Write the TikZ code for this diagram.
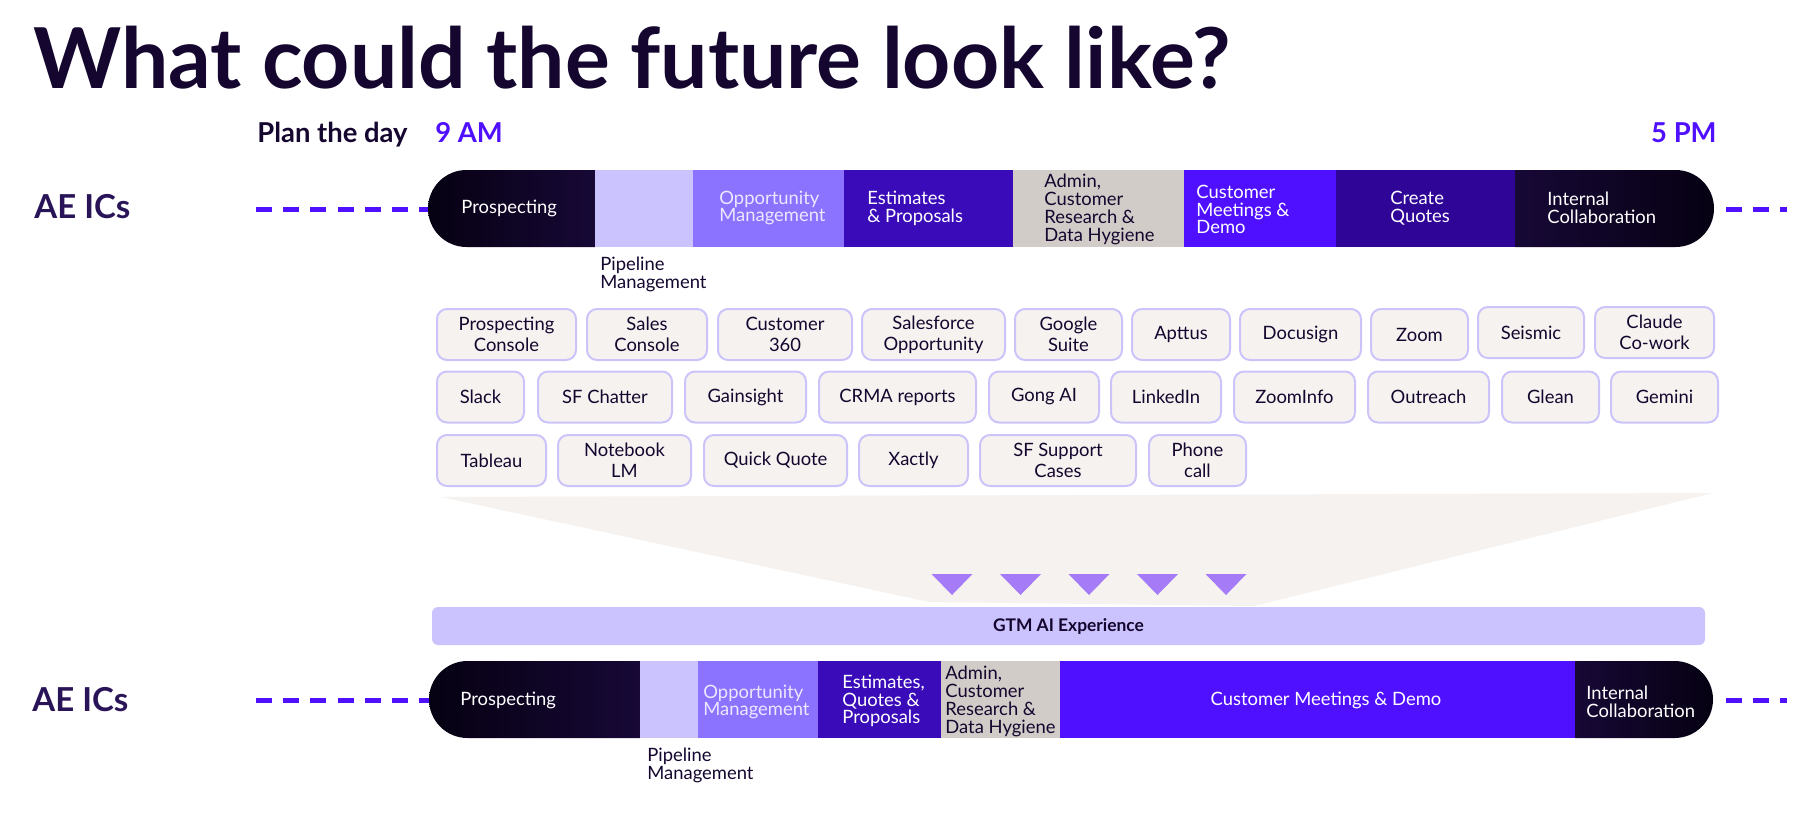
\documentclass[tikz,border=0pt]{standalone}
\usepackage{fontspec}
\setmainfont{Lato}
\usepackage{tikz}
\usetikzlibrary{positioning,calc}
\definecolor{inkcol}{HTML}{14062E}
\definecolor{aecol}{HTML}{2A1458}
\definecolor{violetcol}{HTML}{4F10FF}
\definecolor{lilaccol}{HTML}{CBC3FD}
\definecolor{oppcol}{HTML}{8B72FF}
\definecolor{estcol}{HTML}{3A0BB8}
\definecolor{admincol}{HTML}{D2CCC8}
\definecolor{quotecol}{HTML}{2F0598}
\definecolor{darkA}{HTML}{060112}
\definecolor{darkB}{HTML}{170836}
\definecolor{toolfill}{HTML}{F6F2EF}
\definecolor{toolline}{HTML}{CCC3FB}
\definecolor{tricol}{HTML}{A57BF8}
\definecolor{opptext}{HTML}{ECE8FF}
\tikzset{
  seg dark/.style={left color=darkA,right color=darkB},
  seg darkr/.style={left color=darkB,right color=darkA},
  seg lilac/.style={fill=lilaccol},
  seg opp/.style={fill=oppcol},
  seg est/.style={fill=estcol},
  seg admin/.style={fill=admincol},
  seg meet/.style={fill=violetcol},
  seg quote/.style={fill=quotecol},
  bartext/.style={anchor=west,inner sep=0pt,align=left,text=white,font=\fontsize{9.2}{8.9}\selectfont},
  undertext/.style={bartext,text=inkcol,font=\fontsize{9.2}{9}\selectfont},
  rowlabel/.style={anchor=west,inner sep=0pt,text=aecol,font=\fontsize{16.5}{18}\selectfont\bfseries},
  timetext/.style={inner sep=0pt,text=violetcol,font=\fontsize{13.7}{15}\selectfont\bfseries},
  tool/.style={draw=toolline,fill=toolfill,line width=1pt,rounded corners=5pt,inner sep=0pt,
    minimum height=25.5pt,align=center,text=inkcol,font=\fontsize{9.2}{10.5}\selectfont},
  dashline/.style={draw=violetcol,line width=2.5pt,dash pattern=on 8pt off 5.6pt},
  gtmbar/.style={fill=lilaccol,rounded corners=3pt,inner sep=0pt,minimum width=636.5pt,
    minimum height=19pt,text=inkcol,font=\fontsize{8.7}{10}\selectfont\bfseries}
}
\begin{document}
\begin{tikzpicture}[x=0.5pt,y=-0.5pt]
  \useasboundingbox (0,0) rectangle (1818,819);

  \node[anchor=base west,inner sep=0pt,text=inkcol,font=\fontsize{42}{44}\selectfont\bfseries]
    (title) at (33,88) {What could the future look like?};
  \node[anchor=base west,inner sep=0pt,text=inkcol,font=\fontsize{13.7}{15}\selectfont\bfseries]
    (plan) at (257,142) {Plan the day};
  \node[timetext,anchor=base west] (nine) at (435,142) {9 AM};
  \node[timetext,anchor=base east] (five) at (1717,142) {5 PM};

  % dashed guide lines
  \coordinate (tl) at (256,209);  \coordinate (tlb) at (436,209);
  \coordinate (tr) at (1726,209); \coordinate (tre) at (1787,209);
  \coordinate (bl) at (256,700);  \coordinate (blb) at (436,700);
  \coordinate (br) at (1726,700); \coordinate (bre) at (1787,700);
  \draw[dashline] (tl) -- (tlb);
  \draw[dashline] (tr) -- (tre);
  \draw[dashline] (bl) -- (blb);
  \draw[dashline] (br) -- (bre);

  \node[rowlabel] (ae1) at (34,207) {AE ICs};
  \node[rowlabel] (ae2) at (32,700) {AE ICs};

  % today's day
  \begin{scope}
    \clip[rounded corners=19.25pt] (428,170) rectangle (1714,247);
    \foreach \xa/\xb/\c in {428/595/seg dark,595/693/seg lilac,693/844/seg opp,844/1013/seg est,
      1013/1184/seg admin,1184/1336/seg meet,1336/1515/seg quote,1515/1714/seg darkr}
      {\path[\c] (\xa,170) rectangle (\xb,247);}
  \end{scope}
  \node[bartext] (t1) at (461,208) {Prospecting};
  \node[undertext] (t2) at (600,274) {Pipeline\\Management};
  \node[bartext,text=opptext] (t3) at (719,208) {Opportunity\\Management};
  \node[bartext] (t4) at (867,208) {Estimates\\\& Proposals};
  \node[bartext,text=inkcol] (t5) at (1044,209.5) {Admin,\\Customer\\Research \&\\Data Hygiene};
  \node[bartext] (t6) at (1196,209.5) {Customer\\Meetings \&\\Demo};
  \node[bartext] (t7) at (1390,208) {Create\\Quotes};
  \node[bartext] (t8) at (1547,208) {Internal\\Collaboration};

  % tools
  \fill[toolfill] (441,497) -- (1713,493) -- (1254,606) -- (929,602) -- cycle;
  \foreach \n/\xa/\xb/\y/\t in {
      pc/437/576/334.5/{Prospecting\\Console}, sc/587/707/334.5/{Sales\\Console},
      cthree/718/852/334.5/{Customer\\360}, sfo/862/1005/334.5/{Salesforce\\Opportunity},
      gs/1015/1122/334.5/{Google\\Suite}, apt/1132/1230/334.5/{Apttus},
      doc/1240/1361/334.5/{Docusign}, zm/1371/1468/334.5/{Zoom},
      seis/1478/1584/332.5/{Seismic}, cl/1595/1714/332.5/{Claude\\Co-work},
      slk/437/524/397/{Slack}, chat/538/672/397/{SF Chatter},
      gain/685/806/397/{Gainsight}, crma/819/976/397/{CRMA reports},
      gong/989/1099/397/{Gong AI}, li/1111/1221/397/{LinkedIn},
      zi/1234/1355/397/{ZoomInfo}, outr/1368/1489/397/{Outreach},
      gl/1502/1599/397/{Glean}, gem/1611/1718/397/{Gemini},
      tab/437/546/460.5/{Tableau}, nlm/558/691/460.5/{Notebook\\LM},
      qq/704/847/460.5/{Quick Quote}, xac/859/968/460.5/{Xactly},
      sfs/980/1136/460.5/{SF Support\\Cases}, ph/1149/1246/460.5/{Phone\\call}}
    {\node[tool,minimum width={(\xb-\xa)*0.5pt}] (\n) at ({(\xa+\xb)/2},\y) {\t};}

  \foreach \i in {0,...,4}
    {\fill[tricol] ({952+68.5*\i-20.5},574) -- ({952+68.5*\i+20.5},574) -- ({952+68.5*\i},595) -- cycle;}

  \node[gtmbar] (gtm) at (1068.5,626) {GTM AI Experience};

  % future day
  \begin{scope}
    \clip[rounded corners=19.25pt] (429,661) rectangle (1713,738);
    \foreach \xa/\xb/\c in {429/640/seg dark,640/698/seg lilac,698/818/seg opp,818/941/seg est,
      941/1060/seg admin,1060/1575/seg meet,1575/1713/seg darkr}
      {\path[\c] (\xa,661) rectangle (\xb,738);}
  \end{scope}
  \node[bartext] (b1) at (460,700) {Prospecting};
  \node[undertext] (b2) at (647,765) {Pipeline\\Management};
  \node[bartext,text=opptext] (b3) at (703,702) {Opportunity\\Management};
  \node[bartext] (b4) at (842,701) {Estimates,\\Quotes \&\\Proposals};
  \node[bartext,text=inkcol] (b5) at (945,701.5) {Admin,\\Customer\\Research \&\\Data Hygiene};
  \node[bartext,anchor=center] (b6) at (1326,700) {Customer Meetings \& Demo};
  \node[bartext] (b7) at (1586,702) {Internal\\Collaboration};
\end{tikzpicture}
\end{document}
